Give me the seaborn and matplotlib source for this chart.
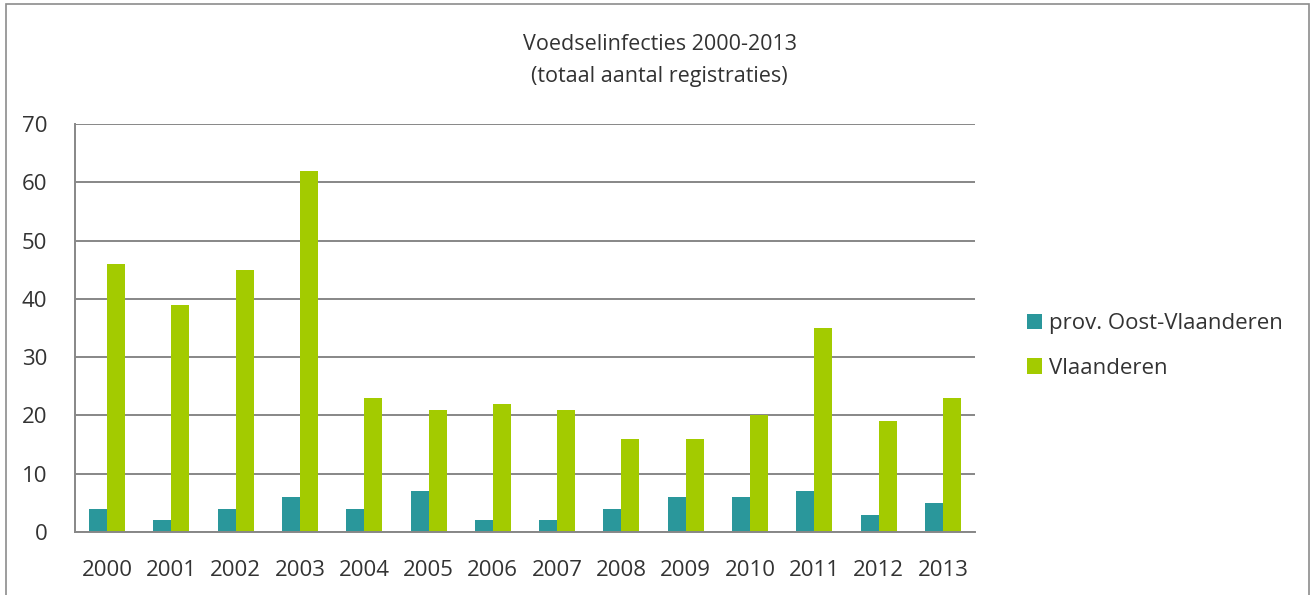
import matplotlib.pyplot as plt
import matplotlib.patches as mpatches
import pandas as pd
import seaborn as sns

years = [str(y) for y in range(2000, 2014)]
oost_vlaanderen = [4, 2, 4, 6, 4, 7, 2, 2, 4, 6, 6, 7, 3, 5]
vlaanderen = [46, 39, 45, 62, 23, 21, 22, 21, 16, 16, 20, 35, 19, 23]
series_names = ["prov. Oost-Vlaanderen", "Vlaanderen"]
colors = ["#2A979B", "#A3CB00"]

df = pd.DataFrame({
    "Jaar": years * 2,
    "Aantal": oost_vlaanderen + vlaanderen,
    "Reeks": [series_names[0]] * len(years) + [series_names[1]] * len(years),
})

sns.set_theme(style="white")
plt.rcParams["font.family"] = ["Open Sans", "DejaVu Sans"]
text_color = "#333333"
grid_color = "#878787"

fig = plt.figure(figsize=(13.13, 5.95), dpi=100)
ax = fig.add_axes([0.0571, 0.1059, 0.6855, 0.6857])

sns.barplot(data=df, x="Jaar", y="Aantal", hue="Reeks", palette=colors,
            width=0.56, saturation=1, linewidth=0, ax=ax, legend=True)

ax.set_ylim(0, 70)
ax.set_yticks(range(0, 71, 10))
ax.set_xlim(-0.5, len(years) - 0.5)
ax.yaxis.grid(True, color=grid_color, linewidth=1.4)
ax.set_axisbelow(True)
ax.set_xlabel("")
ax.set_ylabel("")
ax.tick_params(axis="both", length=0, labelsize=16, colors=text_color)
ax.tick_params(axis="x", pad=20)
ax.tick_params(axis="y", pad=20)
for side in ["top", "right"]:
    ax.spines[side].set_visible(False)
for side in ["left", "bottom"]:
    ax.spines[side].set_color(grid_color)
    ax.spines[side].set_linewidth(1.4)

ax.legend(loc="center left", bbox_to_anchor=(1.035, 0.456), frameon=False,
          fontsize=16, handlelength=0.7, handleheight=0.7, handletextpad=0.3,
          labelspacing=1.05, labelcolor=text_color)

fig.text(0.5025, 0.898, "Voedselinfecties 2000-2013\n(totaal aantal registraties)",
         ha="center", va="center", fontsize=15.5, color=text_color, linespacing=1.65)

# outer chart border
fig.patches.append(mpatches.Rectangle((6 / 1313, -0.01), 1303 / 1313, 1.0 - 4 / 595 + 0.01,
                                      transform=fig.transFigure, fill=False,
                                      edgecolor="#8C8C8C", linewidth=1.2))

fig.savefig("out.png", dpi=100)
